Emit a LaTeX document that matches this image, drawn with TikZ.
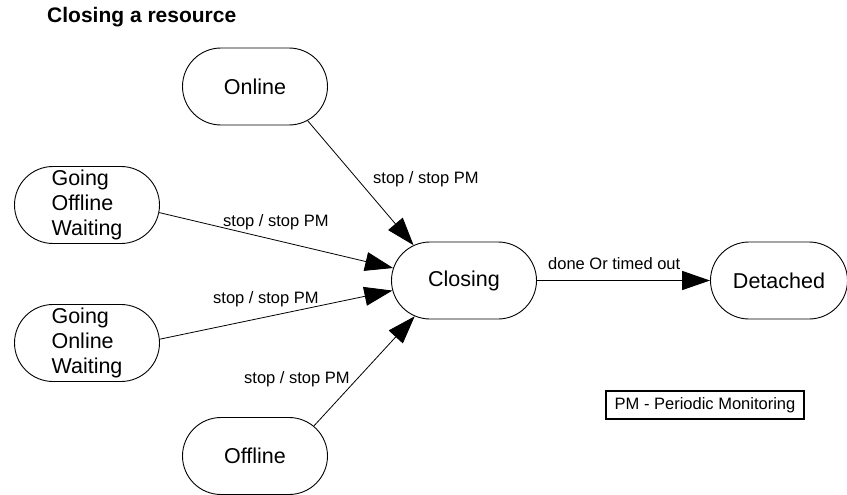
\documentclass[tikz,border=0pt]{standalone}
\usepackage{fontspec}
\setmainfont{Liberation Sans}
\usetikzlibrary{shapes.misc,arrows.meta}
\begin{document}
\begin{tikzpicture}[x=1pt,y=-1pt,
  state/.style={rounded rectangle, draw, line width=0.9pt, minimum width=145pt,
    minimum height=77pt, inner sep=0pt, font=\fontsize{21.5}{25}\selectfont, align=left},
  lbl/.style={font=\fontsize{16.5}{19}\selectfont, inner sep=0pt, anchor=base west},
  trans/.style={draw, line width=0.8pt, -{Triangle[length=28pt,width=19pt]}},
]
\useasboundingbox (0,0) rectangle (847,495);
\fill[white] (0,0) rectangle (847,495);

\node[anchor=base west, inner sep=0pt, font=\bfseries\fontsize{21}{25}\selectfont] (title) at (47,23) {Closing a resource};

\node[state] (online) at (255,86.5) {Online};
\node[state] (goff) at (87,205) {Going\\Offline\\Waiting};
\node[state] (gon) at (87,343) {Going\\Online\\Waiting};
\node[state] (offline) at (255,456) {Offline};
\node[state] (closing) at (464,280.5) {Closing};
\node[state, minimum width=137pt] (detached) at (779,280.5) {Detached};

\node[draw, line width=1.3pt, minimum width=198pt, minimum height=28pt, inner sep=0pt,
  font=\fontsize{16.5}{19}\selectfont] (pm) at (705,405) {PM - Periodic Monitoring};

\draw[trans] (online.-33.7) -- (closing.145.3);
\draw[trans] (goff.-6) -- (closing.170.5);
\draw[trans] (gon.3) -- (closing.188);
\draw[trans] (offline.27.3) -- (closing.216.7);
\draw[trans, line width=1.6pt] (closing.east) -- (detached.west);

\node[lbl] (l1) at (373,183) {stop / stop PM};
\node[lbl] (l2) at (223,226) {stop / stop PM};
\node[lbl] (l3) at (213,303) {stop / stop PM};
\node[lbl] (l4) at (244,383) {stop / stop PM};
\node[lbl] (l5) at (548,269) {done Or timed out};
\end{tikzpicture}
\end{document}
